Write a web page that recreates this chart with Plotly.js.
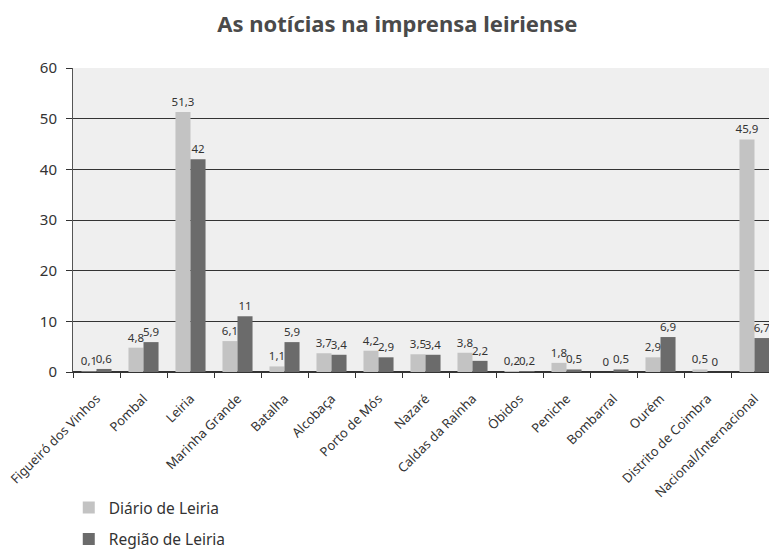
<!DOCTYPE html>
<html>
<head>
<meta charset="utf-8">
<script src="https://cdn.plot.ly/plotly-3.0.1.min.js"></script>
<style>
html,body{margin:0;padding:0;overflow:hidden;background:#ffffff;}
#chart{width:790px;height:550px;}
</style>
</head>
<body>
<div id="chart"></div>
<script>
const categories = ["Figueiró dos Vinhos","Pombal","Leiria","Marinha Grande","Batalha","Alcobaça","Porto de Mós","Nazaré","Caldas da Rainha","Óbidos","Peniche","Bombarral","Ourém","Distrito de Coimbra","Nacional/Internacional"];
const diarioLeiria = [0.1, 4.8, 51.3, 6.1, 1.1, 3.7, 4.2, 3.5, 3.8, 0.2, 1.8, 0, 2.9, 0.5, 45.9];
const regiaoLeiria = [0.6, 5.9, 42, 11, 5.9, 3.4, 2.9, 3.4, 2.2, 0.2, 0.5, 0.5, 6.9, 0, 6.7];
const seriesNames = ["Diário de Leiria", "Região de Leiria"];
const yTicks = [0, 10, 20, 30, 40, 50, 60];

const fmt = v => String(v).replace('.', ',');
const FONT = "Noto Sans, DejaVu Sans, sans-serif";

const traces = [
  {type:'bar', name:seriesNames[0], x:categories, y:diarioLeiria,
   text:diarioLeiria.map(fmt), textposition:'outside', cliponaxis:false, constraintext:'none',
   textfont:{size:11.5, color:'#333', family:FONT},
   marker:{color:'#c3c3c3'}, legend:'legend'},
  {type:'bar', name:seriesNames[1], x:categories, y:regiaoLeiria,
   text:regiaoLeiria.map(fmt), textposition:'outside', cliponaxis:false, constraintext:'none',
   textfont:{size:11.5, color:'#333', family:FONT},
   marker:{color:'#6b6b6b'}, legend:'legend2'}
];

const layout = {
  width:790, height:550,
  margin:{l:73, r:12, t:68, b:178, autoexpand:false},
  paper_bgcolor:'#ffffff', plot_bgcolor:'#efefef',
  font:{family:FONT, color:'#333'},
  title:{text:'<b>As notícias na imprensa leiriense</b>', x:0.503, xanchor:'center', y:0.955, yanchor:'middle',
         font:{family:FONT, size:22, color:'#4a4a4a'}},
  barmode:'group', bargap:0.36, bargroupgap:0,
  xaxis:{tickangle:-45, tickfont:{size:13, color:'#333'}, ticks:'outside', tickson:'boundaries',
         ticklen:5, tickcolor:'#333', showline:true, linecolor:'#333', linewidth:1, showgrid:false,
         ticklabelstandoff:13, automargin:false, range:[-0.5, 14.5]},
  yaxis:{range:[0,60], tickvals:yTicks, ticktext:yTicks.map(String), tickfont:{size:15, color:'#333'},
         showgrid:true, gridcolor:'#333', gridwidth:1, showline:true, linecolor:'#555', linewidth:1,
         ticks:'outside', ticklen:6, tickcolor:'#333', ticklabelstandoff:6, automargin:false,
         zeroline:true, zerolinecolor:'#333', zerolinewidth:1.5},
  legend:{x:-0.006, xanchor:'left', y:-0.447, yanchor:'middle', font:{size:15.5, color:'#333'}, bgcolor:'rgba(0,0,0,0)'},
  legend2:{x:-0.006, xanchor:'left', y:-0.551, yanchor:'middle', font:{size:15.5, color:'#333'}, bgcolor:'rgba(0,0,0,0)'},
  showlegend:true
};

Plotly.newPlot('chart', traces, layout, {displayModeBar:false, staticPlot:true});
</script>
</body>
</html>
